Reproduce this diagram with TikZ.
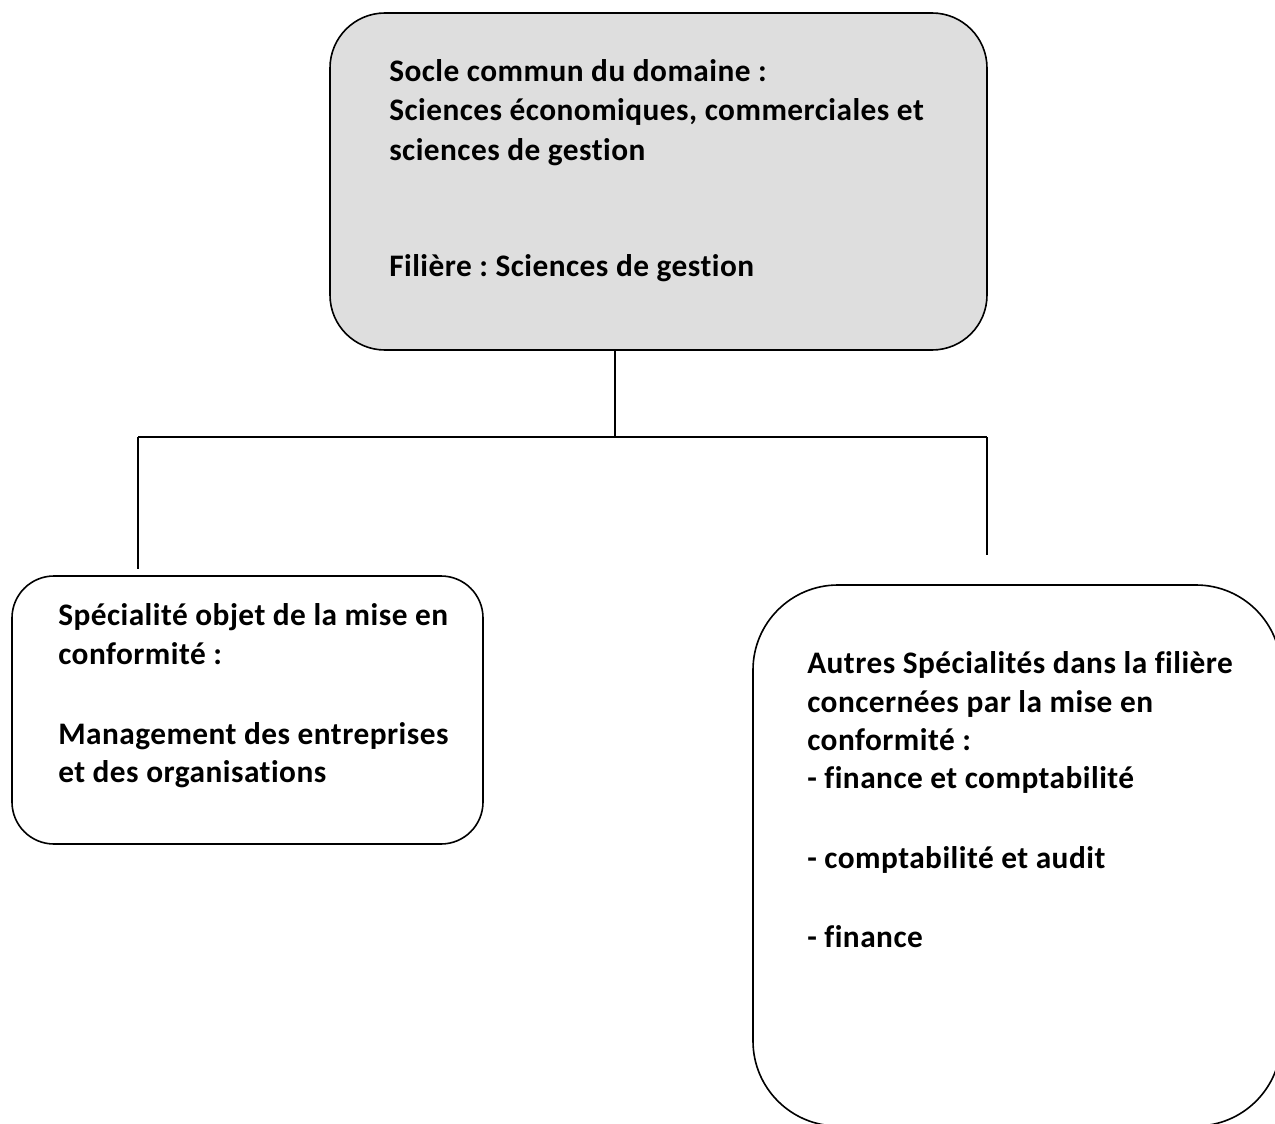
\documentclass[tikz,border=0pt]{standalone}
\usepackage{fontspec}
\setmainfont{Carlito}[Ligatures={NoCommon},LetterSpace=1.5]
\frenchspacing
\begin{document}
\begin{tikzpicture}[x=0.75pt,y=-0.75pt,
  boxline/.style={draw=black,line width=1.2pt},
  conn/.style={draw=black,line width=1.2pt},
  txt/.style={anchor=base west,inner sep=0pt,font=\fontsize{23.5pt}{29pt}\selectfont\bfseries\frenchspacing}]
\useasboundingbox (0,0) rectangle (1275,1124);
\clip (0,0) rectangle (1275,1124);
% boxes
\node[boxline,fill=black!13,rounded corners=41.25pt,minimum width=492.75pt,minimum height=252.75pt,inner sep=0pt] (top) at (658.5,181.5) {};
\node[boxline,rounded corners=31.5pt,minimum width=353.25pt,minimum height=201pt,inner sep=0pt] (left) at (247.5,710) {};
\node[boxline,rounded corners=63.75pt,minimum width=396pt,minimum height=405.75pt,inner sep=0pt] (right) at (1017,855.5) {};
% connectors
\coordinate (j) at (615,437);
\coordinate (lj) at (138,437);
\coordinate (rj) at (987,437);
\coordinate (le) at (138,569);
\coordinate (re) at (987,555);
\draw[conn] (top.south -| j) -- (j);
\draw[conn] (lj) -- (rj);
\draw[conn] (lj) -- (le);
\draw[conn] (rj) -- (re);
% top text
\node[txt] (t1) at (389,82) {Socle commun du domaine :};
\node[txt] (t2) at (389,121) {Sciences économiques, commerciales et};
\node[txt] (t3) at (389,160) {sciences de gestion};
\begin{scope}
\clip (340,230) rectangle (980,282);
\node[txt] (t4) at (389,276) {Filière : Sciences de gestion};
\end{scope}
% left text
\node[txt] (l1) at (58,625) {Spécialité objet de la mise en};
\node[txt] (l2) at (58,664) {conformité :};
\node[txt] (l3) at (58,744) {Management des entreprises};
\node[txt] (l4) at (58,782) {et des organisations};
% right text
\node[txt] (r1) at (807,673) {Autres Spécialités dans la filière};
\node[txt] (r2) at (807,712) {concernées par la mise en};
\node[txt] (r3) at (807,750) {conformité :};
\node[txt] (r4) at (807,788) {- finance et comptabilité};
\node[txt] (r5) at (807,868) {- comptabilité et audit};
\node[txt] (r6) at (807,947) {- finance};
\end{tikzpicture}
\end{document}
